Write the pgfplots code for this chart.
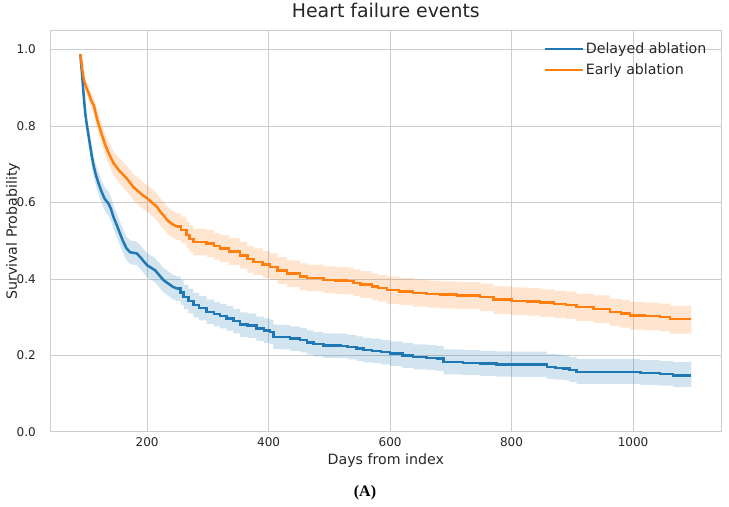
\documentclass[border=0pt]{standalone}
\usepackage{pgfplots}
\pgfplotsset{compat=1.18}
\usepackage{pgfplotstable}
\usepgfplotslibrary{fillbetween}
\usepackage{fontspec}
\setmainfont{DejaVu Sans}
\newfontfamily\capfont{Liberation Serif}

\definecolor{tabblue}{HTML}{1F77B4}
\definecolor{taborange}{HTML}{FF7F0E}
\definecolor{gridgray}{HTML}{CCCCCC}
\definecolor{txt}{HTML}{262626}

% Kaplan-Meier estimates with 95% confidence limits
\pgfplotstableread{
x    y     lo    hi
90   0.988 0.984 0.992
92   0.950 0.942 0.958
94   0.910 0.898 0.922
96   0.870 0.855 0.885
98   0.835 0.817 0.853
100  0.810 0.790 0.830
103  0.780 0.758 0.802
106  0.750 0.726 0.774
109  0.720 0.694 0.746
112  0.695 0.668 0.722
116  0.670 0.642 0.698
120  0.650 0.621 0.679
125  0.628 0.598 0.658
130  0.610 0.579 0.641
136  0.598 0.567 0.629
140  0.585 0.554 0.616
145  0.560 0.529 0.591
150  0.541 0.510 0.572
155  0.520 0.489 0.551
160  0.500 0.469 0.531
166  0.480 0.449 0.511
172  0.470 0.439 0.501
183  0.467 0.436 0.498
190  0.455 0.424 0.486
195  0.445 0.414 0.476
200  0.436 0.404 0.468
206  0.430 0.398 0.462
213  0.423 0.391 0.455
220  0.410 0.378 0.442
227  0.397 0.365 0.429
235  0.388 0.356 0.420
242  0.380 0.348 0.412
249  0.375 0.343 0.407
255  0.365 0.333 0.397
260  0.353 0.321 0.385
268  0.342 0.310 0.374
276  0.332 0.300 0.364
285  0.324 0.292 0.356
298  0.314 0.282 0.346
310  0.308 0.276 0.340
320  0.303 0.271 0.335
331  0.297 0.265 0.329
342  0.290 0.258 0.322
353  0.281 0.249 0.313
365  0.278 0.246 0.310
380  0.270 0.238 0.302
392  0.265 0.233 0.297
402  0.262 0.230 0.294
408  0.249 0.217 0.281
420  0.248 0.216 0.280
435  0.244 0.212 0.276
452  0.240 0.208 0.272
463  0.234 0.202 0.266
474  0.230 0.198 0.262
490  0.226 0.194 0.258
518  0.225 0.193 0.257
530  0.222 0.190 0.254
545  0.218 0.186 0.250
556  0.214 0.182 0.246
570  0.212 0.180 0.244
585  0.209 0.177 0.241
600  0.205 0.173 0.237
620  0.200 0.168 0.233
638  0.196 0.164 0.229
660  0.194 0.162 0.227
677  0.192 0.160 0.225
688  0.183 0.151 0.216
720  0.181 0.149 0.214
748  0.179 0.147 0.212
775  0.177 0.145 0.211
803  0.176 0.144 0.210
842  0.176 0.144 0.210
858  0.170 0.139 0.204
872  0.168 0.137 0.202
885  0.166 0.135 0.200
895  0.162 0.131 0.196
907  0.157 0.126 0.191
995  0.157 0.126 0.191
1012 0.154 0.123 0.188
1044 0.152 0.121 0.186
1066 0.148 0.118 0.183
1096 0.148 0.118 0.183
}\delayed

\pgfplotstableread{
x    y     lo    hi
90   0.988 0.984 0.993
93   0.950 0.942 0.958
96   0.920 0.908 0.932
100  0.900 0.885 0.915
104  0.885 0.867 0.903
108  0.866 0.846 0.886
112  0.855 0.833 0.877
115  0.835 0.812 0.858
118  0.815 0.790 0.840
121  0.800 0.774 0.826
125  0.780 0.753 0.807
130  0.755 0.727 0.783
135  0.735 0.706 0.764
140  0.718 0.688 0.748
145  0.702 0.671 0.733
150  0.692 0.660 0.724
155  0.682 0.649 0.715
161  0.672 0.638 0.706
168  0.660 0.626 0.694
177  0.641 0.607 0.675
185  0.630 0.595 0.665
192  0.620 0.585 0.655
200  0.611 0.576 0.646
208  0.600 0.565 0.635
216  0.589 0.554 0.624
222  0.575 0.540 0.610
228  0.565 0.530 0.600
233  0.554 0.519 0.589
240  0.545 0.510 0.580
249  0.537 0.502 0.572
256  0.528 0.493 0.563
265  0.515 0.480 0.550
270  0.505 0.470 0.540
276  0.497 0.462 0.532
298  0.493 0.458 0.528
310  0.486 0.451 0.521
320  0.480 0.445 0.515
335  0.472 0.437 0.507
353  0.462 0.427 0.497
365  0.452 0.417 0.487
375  0.445 0.410 0.480
390  0.438 0.403 0.473
402  0.432 0.397 0.467
415  0.422 0.387 0.457
430  0.414 0.379 0.449
452  0.406 0.371 0.441
463  0.403 0.368 0.438
490  0.398 0.363 0.433
510  0.396 0.361 0.431
529  0.395 0.360 0.430
540  0.390 0.355 0.425
551  0.386 0.351 0.421
570  0.380 0.345 0.415
580  0.376 0.341 0.411
595  0.371 0.335 0.406
615  0.368 0.332 0.403
638  0.364 0.328 0.399
660  0.361 0.325 0.396
682  0.359 0.323 0.394
710  0.357 0.321 0.392
748  0.353 0.317 0.388
770  0.346 0.309 0.381
800  0.343 0.306 0.378
825  0.341 0.304 0.376
847  0.338 0.301 0.373
870  0.335 0.298 0.370
890  0.332 0.295 0.367
907  0.327 0.290 0.362
935  0.322 0.285 0.357
962  0.314 0.277 0.349
980  0.310 0.273 0.345
995  0.305 0.268 0.340
1020 0.303 0.266 0.338
1044 0.301 0.263 0.336
1061 0.295 0.257 0.330
1096 0.295 0.257 0.330
}\early

% early part: dense events, drawn as a polyline; later part: visible steps
\pgfplotsset{
  dense/.style={restrict x to domain=80:249},
  sparse/.style={restrict x to domain=249:1200, const plot},
}

\begin{document}
\begin{tikzpicture}
\begin{axis}[
  at={(50pt,75pt)}, anchor=south west,
  width=671.7pt, height=401.5pt, scale only axis,
  xmin=40, xmax=1146, ymin=0, ymax=1.05,
  xtick={200,400,600,800,1000},
  ytick={0,0.2,0.4,0.6,0.8,1.0},
  /pgf/number format/assume math mode=true,
  /pgf/number format/1000 sep={},
  yticklabel style={/pgf/number format/fixed, /pgf/number format/fixed zerofill,
    /pgf/number format/precision=1},
  major tick length=0pt,
  axis line style={gridgray, line width=1pt},
  grid=major,
  grid style={gridgray, line width=1pt},
  tick label style={font=\fontsize{12}{14}\selectfont, text=txt},
  xticklabel style={anchor=base, yshift=-14.3pt},
  yticklabel style={anchor=east, inner sep=0pt, xshift=-14pt},
  xlabel={Days from index},
  xlabel style={font=\fontsize{14.2}{16}\selectfont, text=txt,
    at={(axis description cs:0.5,-0.0814)}, anchor=base},
  ylabel={Survival Probability},
  ylabel style={font=\fontsize{14.2}{16}\selectfont, text=txt,
    at={(axis description cs:-0.0551,0.5)}, anchor=center},
  title={Heart failure events},
  title style={font=\fontsize{18.9}{21}\selectfont, text=txt,
    at={(axis description cs:0.5,1)}, anchor=base, yshift=6.8pt},
  legend cell align=left,
  legend image code/.code={\draw[#1] (0pt,0pt) -- (30pt,0pt);
    \path (0pt,0pt) -- (38pt,0pt);},
  legend style={draw=none, fill=none, font=\fontsize{14.2}{16}\selectfont,
    text=txt, at={(axis description cs:0.985,0.98)}, anchor=north east,
    row sep=5pt},
]
% confidence bands
\addplot[draw=none, dense, name path=dhiA, forget plot] table[x=x, y=hi] {\delayed};
\addplot[draw=none, dense, name path=dloA, forget plot] table[x=x, y=lo] {\delayed};
\addplot[fill=tabblue, fill opacity=0.2, draw=none, forget plot] fill between[of=dhiA and dloA];
\addplot[draw=none, sparse, name path=dhiB, forget plot] table[x=x, y=hi] {\delayed};
\addplot[draw=none, sparse, name path=dloB, forget plot] table[x=x, y=lo] {\delayed};
\addplot[fill=tabblue, fill opacity=0.2, draw=none, forget plot] fill between[of=dhiB and dloB];
\addplot[draw=none, dense, name path=ehiA, forget plot] table[x=x, y=hi] {\early};
\addplot[draw=none, dense, name path=eloA, forget plot] table[x=x, y=lo] {\early};
\addplot[fill=taborange, fill opacity=0.2, draw=none, forget plot] fill between[of=ehiA and eloA];
\addplot[draw=none, sparse, name path=ehiB, forget plot] table[x=x, y=hi] {\early};
\addplot[draw=none, sparse, name path=eloB, forget plot] table[x=x, y=lo] {\early};
\addplot[fill=taborange, fill opacity=0.2, draw=none, forget plot] fill between[of=ehiB and eloB];
% survival curves
\addplot[tabblue, line width=2.5pt, dense] table[x=x, y=y] {\delayed};
\addlegendentry{Delayed ablation}
\addplot[taborange, line width=2.5pt, dense] table[x=x, y=y] {\early};
\addlegendentry{Early ablation}
\addplot[tabblue, line width=2.5pt, sparse, forget plot] table[x=x, y=y] {\delayed};
\addplot[taborange, line width=2.5pt, sparse, forget plot] table[x=x, y=y] {\early};
\end{axis}
\node[font=\capfont\bfseries\fontsize{16}{18}\selectfont, text=black, anchor=base] at (365pt,10pt) {(A)};
\path (0pt,0pt) rectangle (729pt,505pt);
\end{tikzpicture}
\end{document}
